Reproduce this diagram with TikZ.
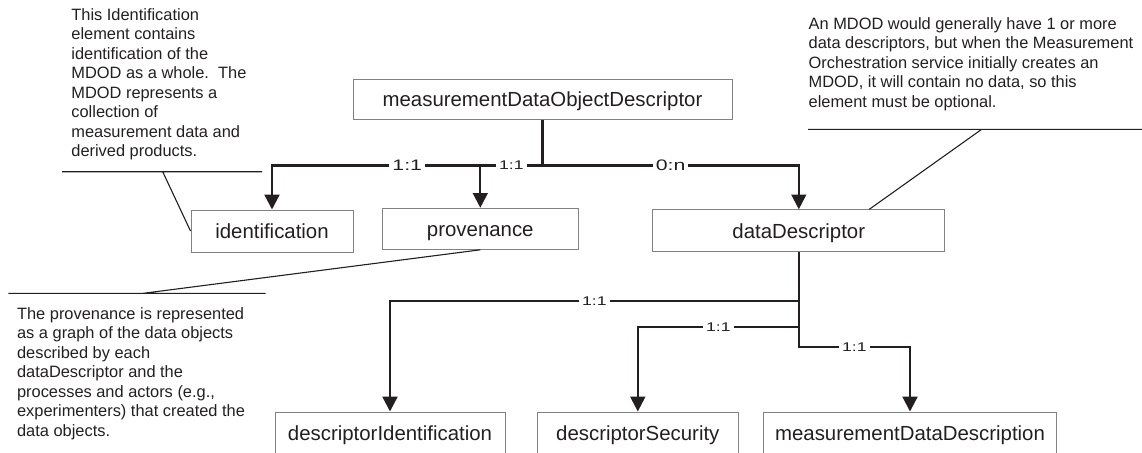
\documentclass[tikz,border=0pt]{standalone}
\usepackage{fontspec}
\setmainfont{Liberation Sans}
\usepackage{graphicx}
\usetikzlibrary{arrows.meta, calc}
\definecolor{lineink}{HTML}{231F20}
\definecolor{boxedge}{HTML}{808285}
\newcommand\cardtext[1]{\scalebox{1.4}[1]{#1}}

\begin{document}
\begin{tikzpicture}[x=0.5pt, y=-0.5pt]
	\tikzset{
		element/.style={draw=boxedge, line width=0.5pt, inner sep=0pt, text=lineink, font=\fontsize{10.2}{12}\selectfont, text height=7.3pt, text depth=0pt},
		link/.style={draw=lineink, line width=1.1pt, -{Triangle[width=7.4pt,length=7.4pt]}},
		card/.style={fill=white, inner xsep=1.5pt, inner ysep=0.5pt, text=lineink, font=\fontsize{7.6}{9}\selectfont},
		cardsmall/.style={card, font=\fontsize{6.3}{7.5}\selectfont},
		note/.style={anchor=north west, inner sep=0pt, align=left, text=lineink, font=\fontsize{8.2}{9.75}\selectfont},
		leader/.style={draw=lineink, line width=0.55pt}
	}
	\clip (0,0) rectangle (1142,452);
	
	% elements
	\node[element, minimum width=189.5pt, minimum height=20pt] (mdod) at (542.5,99) {measurementDataObjectDescriptor};
	\node[element, minimum width=81pt, minimum height=21pt] (ident) at (272,231) {identification};
	\node[element, minimum width=97.75pt, minimum height=20.5pt] (prov) at (480.3,228.8) {provenance};
	\node[element, minimum width=146pt, minimum height=21pt] (ddesc) at (798.8,230.8) {dataDescriptor};
	\node[element, minimum width=115pt, minimum height=21pt] (descid) at (390,433) {descriptorIdentification};
	\node[element, minimum width=100.5pt, minimum height=21pt] (descsec) at (637.8,433) {descriptorSecurity};
	\node[element, minimum width=146.7pt, minimum height=21pt] (mdd) at (910,433) {measurementDataDescription};
	
	% junctions
	\coordinate (jtop) at (542.5,165.5);
	\coordinate (jid) at (798.8,300.7);
	\coordinate (jsec) at (798.8,326.7);
	\coordinate (jmdd) at (798.8,346.7);
	
	% mdod children
	\draw[link] (mdod.south) -- (jtop) -| node[card, pos=0.25] {\cardtext{1:1}} (ident.north);
	\draw[link] (jtop) -| node[card, pos=0.25] {\cardtext{0:n}} (ddesc.north);
	\draw[link] (jtop) -| node[cardsmall, pos=0.25] {\cardtext{1:1}} (prov.north);
	
	% dataDescriptor children
	\draw[link] (ddesc.south) -- (jmdd) -| node[cardsmall, pos=0.25] {\cardtext{1:1}} (mdd.north);
	\draw[link] (jid) -| node[cardsmall, pos=0.25] {\cardtext{1:1}} (descid.north);
	\draw[link] (jsec) -| node[cardsmall, pos=0.25] {\cardtext{1:1}} (descsec.north);
	
	% notes
	\node[note] (note1) at (71,8) {This Identification\\element contains\\identification of the\\MDOD as a whole.\ \ The\\MDOD represents a\\collection of\\measurement data and\\derived products.};
	\coordinate (u1a) at (62,171.7);
	\coordinate (u1b) at (262,171.7);
	\coordinate (u1c) at (162.7,171.7);
	\draw[leader] (u1a) -- (u1b) (u1c) -- (ident.west);
	
	\node[note] (note2) at (808.3,16.8) {An MDOD would generally have 1 or more\\data descriptors, but when the Measurement\\Orchestration service initially creates an\\MDOD, it will contain no data, so this\\element must be optional.};
	\coordinate (u2a) at (808,129.3);
	\coordinate (u2b) at (1142,129.3);
	\coordinate (u2c) at (981.7,129.3);
	\coordinate (hook2) at ([xshift=35.25pt]ddesc.north);
	\draw[leader] (u2a) -- (u2b) (u2c) -- (hook2);
	
	\node[note] (note3) at (16.7,306.8) {The provenance is represented\\as a graph of the data objects\\described by each\\dataDescriptor and the\\processes and actors (e.g.,\\experimenters) that created the\\data objects.};
	\coordinate (u3a) at (8.3,293.3);
	\coordinate (u3b) at (265.7,293.3);
	\coordinate (u3c) at (143.3,293.3);
	\draw[leader] (u3a) -- (u3b) (u3c) -- (prov.south);
\end{tikzpicture}
\end{document}
